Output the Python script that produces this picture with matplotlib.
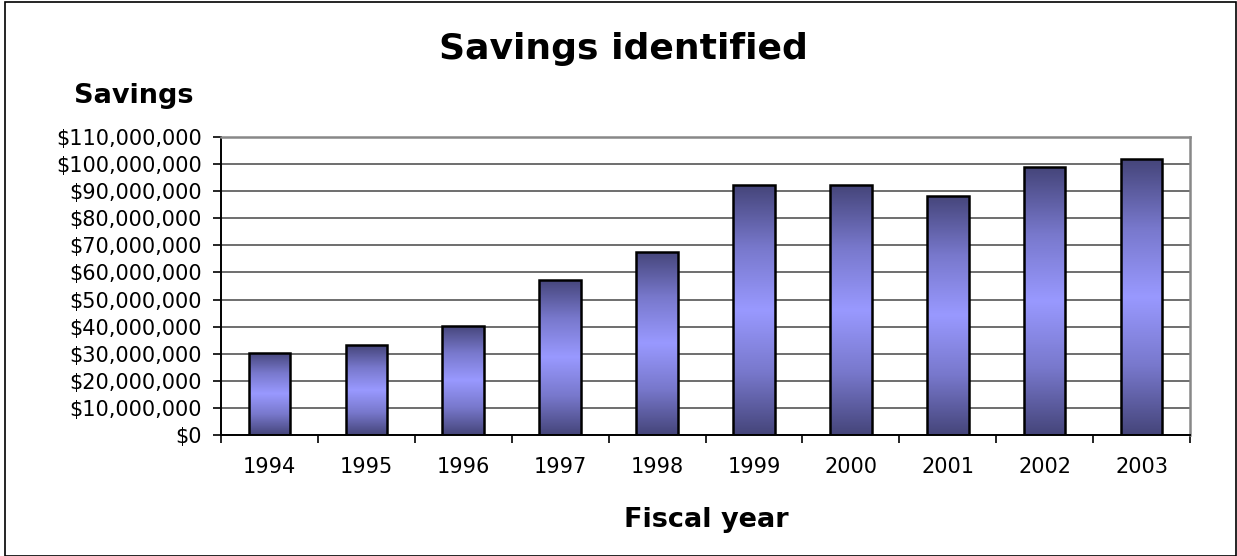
import matplotlib
matplotlib.use("Agg")
import matplotlib.pyplot as plt
import numpy as np
from matplotlib.colors import LinearSegmentedColormap
from matplotlib.ticker import FuncFormatter, MultipleLocator
from matplotlib.patches import Rectangle

years = ["1994", "1995", "1996", "1997", "1998", "1999", "2000", "2001", "2002", "2003"]
savings = [30.3e6, 33.2e6, 40.3e6, 57.3e6, 67.6e6, 92.1e6, 92.1e6, 88.3e6, 98.8e6, 101.7e6]

plt.rcParams['font.family'] = ['DejaVu Sans']

fig = plt.figure(figsize=(12.37, 5.56), dpi=100)
W, H = 1237, 556
ax = fig.add_axes([221 / W, 1 - 435 / H, (1190 - 221) / W, (435 - 137) / H])

x = np.arange(len(years))
bw = 0.43
bars = ax.bar(x, savings, width=bw, color='none', edgecolor='black', linewidth=1.8, zorder=3)

cmap = LinearSegmentedColormap.from_list('g', ['#45457a', '#7878cc', '#9999ff', '#7878cc', '#45457a'])
grad = np.linspace(0, 1, 256).reshape(-1, 1)
for b in bars:
    x0, y0 = b.get_x(), b.get_y()
    w, h = b.get_width(), b.get_height()
    im = ax.imshow(grad, cmap=cmap, extent=[x0, x0 + w, y0, y0 + h], aspect='auto',
                   origin='lower', zorder=2)
    im.set_clip_path(Rectangle((x0, y0), w, h, transform=ax.transData))

ax.set_xlim(-0.5, len(years) - 0.5)
ax.set_ylim(0, 110e6)
ax.yaxis.set_major_locator(MultipleLocator(10e6))
ax.yaxis.set_major_formatter(FuncFormatter(lambda v, p: "${:,.0f}".format(v)))
ax.set_xticks(x)
ax.set_xticklabels(years)
ax.set_xticks(np.arange(-0.5, len(years)), minor=True)
ax.tick_params(axis='x', which='major', length=0, labelsize=15, pad=16)
ax.tick_params(axis='x', which='minor', length=6, width=1.2, color='black', direction='out')
ax.tick_params(axis='y', length=6, width=1.2, direction='out', labelsize=15, pad=8)
ax.grid(axis='y', color='#555555', linewidth=1.2, zorder=0)
ax.set_axisbelow(True)
for s in ['top', 'right']:
    ax.spines[s].set_color('#888888')
    ax.spines[s].set_linewidth(1.8)
for s in ['left', 'bottom']:
    ax.spines[s].set_color('black')
    ax.spines[s].set_linewidth(1.4)

fig.text(623 / W, 1 - 59 / H, "Savings identified", ha='center', va='baseline',
         fontsize=26, fontweight='bold')
fig.text(134 / W, 1 - 103 / H, "Savings", ha='center', va='baseline',
         fontsize=19.5, fontweight='bold')
fig.text(706 / W, 1 - 527 / H, "Fiscal year", ha='center', va='baseline',
         fontsize=19.5, fontweight='bold')

fig.patches.append(Rectangle((4.5 / W, 0.5 / H), 1 - 5.5 / W, 1 - 2.5 / H, transform=fig.transFigure,
                             fill=False, edgecolor='black', linewidth=1.2))

fig.savefig("out.png", dpi=100)
